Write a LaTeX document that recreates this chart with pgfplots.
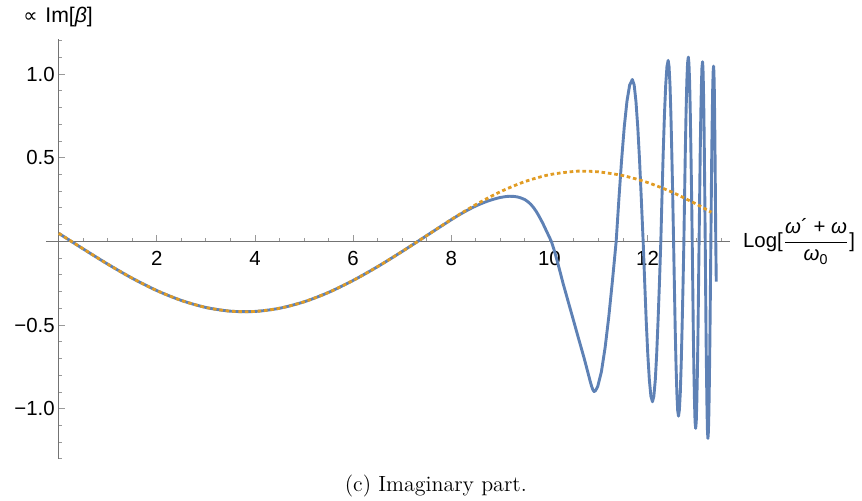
\documentclass[border=0pt]{standalone}
\usepackage{pgfplots}
\pgfplotsset{compat=1.18}
\usepackage{fontspec}
\newfontfamily\hv{Liberation Sans}
\newfontfamily\dv{DejaVu Sans}
\definecolor{mblue}{rgb}{0.368,0.507,0.710}
\definecolor{morange}{rgb}{0.881,0.611,0.142}
\definecolor{axgray}{gray}{0.45}
\definecolor{tickgray}{gray}{0.6}

\begin{document}
\begin{tikzpicture}
\path[use as bounding box] (-23pt,-21pt) rectangle (408pt,229.5pt);
\begin{axis}[
  scale only axis, width=342pt, height=210pt,
  xmin=-0.26, xmax=13.68, ymin=-1.3, ymax=1.21,
  axis lines=middle,
  axis line style={axgray, line width=0.5pt, -},
  xtick={2,4,6,8,10,12},
  xticklabels={2,4,6,8,10,12},
  minor xtick={0.5,1,1.5,2.5,3,3.5,4.5,5,5.5,6.5,7,7.5,8.5,9,9.5,10.5,11,11.5,12.5,13,13.5},
  ytick={-1,-0.5,0.5,1},
  yticklabels={−1.0,−0.5,0.5,1.0},
  minor ytick={-1.3,-1.2,-1.1,-0.9,-0.8,-0.7,-0.6,-0.4,-0.3,-0.2,-0.1,0.1,0.2,0.3,0.4,0.6,0.7,0.8,0.9,1.1,1.2},
  tick align=inside,
  major tick length=3.2pt, minor tick length=1.8pt,
  every tick/.style={tickgray, line width=0.5pt},
  ticklabel style={font=\hv\fontsize{10.2}{12}\selectfont},
  xticklabel style={yshift=-1.5pt},
  yticklabel style={xshift=1.5pt},
  /pgf/number format/assume math mode=true,
  clip=false,
]
% full response, slowly varying part
\addplot[mblue, line width=1.45pt, smooth, line join=round] coordinates {
(0,0.0485) (0.5,-0.0448) (1,-0.1358) (1.5,-0.2202) (2,-0.2937) (2.5,-0.3526)
(3,-0.3945) (3.5,-0.4166) (4,-0.4182) (4.5,-0.3992) (5,-0.3606) (5.5,-0.3043)
(6,-0.2328) (6.5,-0.1502) (7,-0.0596) (7.5,0.0353) (8,0.1300) (8.25,0.1740)
(8.5,0.2120) (8.75,0.2420) (9,0.2630) (9.19,0.2700) (9.35,0.2660) (9.5,0.2500)
(9.62,0.2220) (9.73,0.1800) (9.85,0.1170) (9.94,0.0620) (10.04,0)
};
% full response, oscillating part
\addplot[mblue, line width=1.45pt, sharp plot, line join=round] coordinates {
(10.04,0) (10.10,-0.055) (10.16,-0.118) (10.22,-0.185) (10.28,-0.253) (10.34,-0.315)
(10.40,-0.378) (10.46,-0.440) (10.52,-0.503) (10.58,-0.566) (10.64,-0.628)
(10.70,-0.690) (10.75,-0.745) (10.79,-0.790) (10.83,-0.835) (10.86,-0.866)
(10.885,-0.886) (10.91,-0.897) (10.94,-0.891)
(10.985,-0.866) (11.06,-0.777) (11.135,-0.634) (11.21,-0.4485) (11.285,-0.232) (11.36,0)
(11.415,0.2505) (11.47,0.484) (11.525,0.6845) (11.58,0.838) (11.635,0.935) (11.69,0.968)
(11.727,0.935) (11.763,0.838) (11.80,0.6845) (11.837,0.484) (11.873,0.2505) (11.91,0)
(11.942,-0.248) (11.973,-0.479) (12.005,-0.677) (12.037,-0.830) (12.068,-0.925) (12.10,-0.958)
(12.128,-0.925) (12.157,-0.830) (12.185,-0.677) (12.213,-0.479) (12.242,-0.248) (12.27,0)
(12.295,0.280) (12.32,0.541) (12.345,0.765) (12.37,0.937) (12.395,1.045) (12.42,1.082)
(12.438,1.045) (12.457,0.937) (12.475,0.765) (12.493,0.541) (12.512,0.280) (12.53,0)
(12.547,-0.270) (12.563,-0.522) (12.58,-0.738) (12.597,-0.904) (12.613,-1.008) (12.63,-1.044)
(12.648,-1.008) (12.667,-0.904) (12.685,-0.738) (12.703,-0.522) (12.722,-0.270) (12.74,0)
(12.755,0.285) (12.77,0.551) (12.785,0.779) (12.80,0.954) (12.815,1.064) (12.83,1.102)
(12.843,1.064) (12.857,0.954) (12.87,0.779) (12.883,0.551) (12.897,0.285) (12.91,0)
(12.922,-0.289) (12.933,-0.559) (12.945,-0.790) (12.957,-0.967) (12.968,-1.079) (12.98,-1.117)
(12.992,-1.079) (13.003,-0.967) (13.015,-0.790) (13.027,-0.559) (13.038,-0.289) (13.05,0)
(13.062,0.278) (13.073,0.537) (13.085,0.759) (13.097,0.930) (13.108,1.037) (13.12,1.074)
(13.129,1.037) (13.138,0.930) (13.148,0.759) (13.157,0.537) (13.166,0.278) (13.175,0)
(13.184,-0.305) (13.193,-0.589) (13.203,-0.832) (13.212,-1.019) (13.221,-1.137) (13.23,-1.177)
(13.24,-1.137) (13.25,-1.019) (13.26,-0.832) (13.27,-0.589) (13.28,-0.305) (13.29,0)
(13.299,0.271) (13.308,0.524) (13.318,0.741) (13.327,0.908) (13.336,1.012) (13.345,1.048)
(13.3525,1.012) (13.36,0.908) (13.3675,0.741) (13.375,0.524) (13.3825,0.271) (13.39,0)
(13.40,-0.24)
};
% leading-order approximation
\addplot[morange, line width=1.4pt, smooth, dash pattern=on 1.8pt off 1.4pt] coordinates {
(0,0.0485) (0.5,-0.0448) (1,-0.1358) (1.5,-0.2202) (2,-0.2937) (2.5,-0.3526)
(3,-0.3945) (3.5,-0.4166) (4,-0.4182) (4.5,-0.3992) (5,-0.3606) (5.5,-0.3043)
(6,-0.2328) (6.5,-0.1502) (7,-0.0596) (7.5,0.0353) (8,0.1313) (8.5,0.2202)
(9,0.2970) (9.5,0.3578) (10,0.3989) (10.5,0.4185) (10.68,0.4200) (11,0.4159)
(11.5,0.3934) (12,0.3523) (12.5,0.2944) (13,0.2223) (13.3,0.1742)
};
\node[anchor=west, font=\hv\fontsize{10.2}{12}\selectfont, xshift=3pt]
  at (axis cs:13.68,0)
  {Log[$\displaystyle\frac{\mbox{\hv\fontsize{10.2}{12}\selectfont\textit{ω}´ + \textit{ω}}}{\mbox{\hv\fontsize{10.2}{12}\selectfont\textit{ω}\textsubscript{0}}}$]};
\end{axis}
\node[anchor=base west, inner sep=0pt] at (-0.5pt,218.2pt)
  {\hv\fontsize{10.6}{12}\selectfont Im[\textit{β}]};
\node[anchor=base east, inner sep=0pt] at (-4pt,218.2pt)
  {\dv\fontsize{10}{12}\selectfont ∝};
\node[anchor=base] at (194.9pt,-16.5pt) {\fontsize{11}{13}\selectfont (c) Imaginary part.};
\end{tikzpicture}
\end{document}
